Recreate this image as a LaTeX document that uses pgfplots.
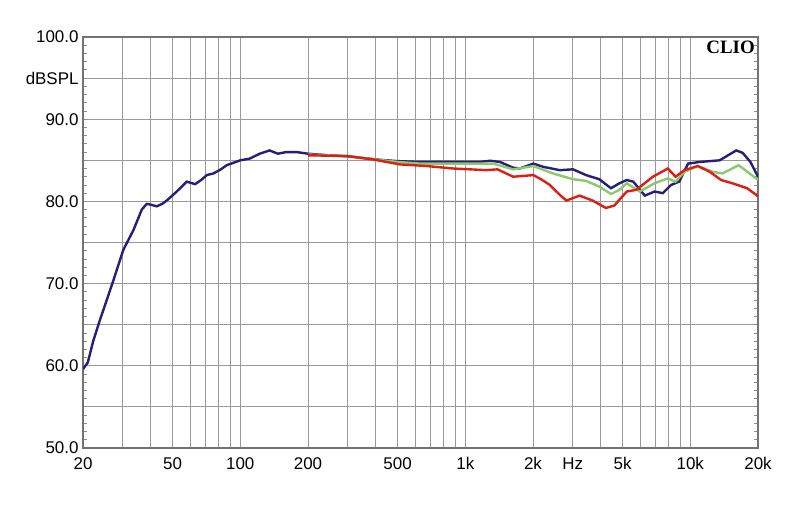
\documentclass[border=0pt]{standalone}
\usepackage{pgfplots}
\pgfplotsset{compat=1.18}
\usepackage{fontspec}
\setmainfont{Liberation Sans}
\newfontfamily\cliofont{Liberation Serif}
\definecolor{navy}{RGB}{40,30,120}
\definecolor{cgreen}{RGB}{140,200,110}
\definecolor{cred}{RGB}{220,30,20}
\begin{document}
\begin{tikzpicture}[x=1bp,y=1bp]
\useasboundingbox (0,0) rectangle (800,506);
\begin{axis}[
  at={(83bp,58bp)}, anchor=south west,
  scale only axis, width=675bp, height=411bp,
  xmode=log, xmin=20, xmax=20000, ymin=50, ymax=100,
  xtick={20,50,100,200,500,1000,2000,3000,5000,10000,20000},
  xticklabels={20,50,100,200,500,1k,2k,Hz,5k,10k,20k},
  minor xtick={30,40,60,70,80,90,300,400,600,700,800,900,4000,6000,7000,8000,9000},
  ytick={50,55,...,100},
  yticklabels={50.0,,60.0,,70.0,,80.0,,90.0,dBSPL,100.0},
  minor y tick num=4,
  xmajorgrids=true, xminorgrids=true, ymajorgrids=true,
  major grid style={draw=black!40, line width=0.9bp},
  minor grid style={draw=black!40, line width=0.9bp},
  axis line style={draw=black!55, line width=1.8bp},
  tick align=inside,
  major tick length=4bp, minor tick length=4bp,
  xtick style={draw=none}, minor x tick style={draw=none},
  ytick style={draw=black!45, line width=0.8bp},
  minor y tick style={draw=black!45, line width=0.8bp},
  ticklabel style={font=\fontsize{17}{20}\selectfont},
  xticklabel style={yshift=-6bp},
  yticklabel style={xshift=-1bp},
  clip=true,
]
\addplot[navy, line width=2.4bp] coordinates {
(20,59.6) (21,60.4) (22.2,63.0) (23.8,65.6) (25.5,68.0) (27.3,70.4) (30.2,74.1)
(33.5,76.5) (36.5,79.0) (38.4,79.7) (40,79.6) (42.5,79.4) (45,79.7) (47.1,80.1)
(52.2,81.2) (57.8,82.4) (63,82.1) (67,82.6) (71,83.2) (76,83.4) (82,83.9) (87,84.4)
(100,85.0) (110,85.2) (122,85.8) (135,86.2) (147,85.8) (160,86.0) (178,86.0)
(200,85.8) (250,85.6) (300,85.5) (400,85.1) (500,84.9) (630,84.8) (800,84.8)
(1000,84.8) (1160,84.8) (1290,84.95) (1424,84.8) (1632,84.1) (1745,84.0) (2008,84.6)
(2222,84.2) (2630,83.8) (3010,83.9) (3440,83.2) (3940,82.7) (4440,81.6) (4840,82.2)
(5220,82.6) (5580,82.4) (6280,80.7) (6940,81.2) (7550,81.0) (8210,82.0) (8930,82.4)
(9780,84.6) (11040,84.8) (13520,85.0) (14500,85.5) (16000,86.2) (17100,85.9)
(18500,84.8) (20000,83.0)
};
\addplot[cgreen, line width=2.4bp] coordinates {
(200,85.7) (300,85.5) (400,85.1) (500,84.8) (630,84.6) (800,84.6) (1000,84.6)
(1160,84.6) (1330,84.6) (1632,83.9) (2008,84.3) (2450,83.4) (3010,82.7) (3440,82.5)
(3940,81.8) (4440,80.9) (4840,81.4) (5220,82.2) (5960,81.2) (6940,82.2) (7950,82.8)
(8600,82.4) (9420,83.6) (10800,84.3) (12600,83.6) (13900,83.4) (16400,84.4)
(19600,82.8) (20000,82.6)
};
\addplot[cred, line width=2.4bp] coordinates {
(200,85.6) (210,85.6) (300,85.5) (390,85.1) (512,84.5) (674,84.3) (884,84.0)
(1240,83.8) (1390,83.9) (1632,83.0) (2008,83.2) (2200,82.6) (2376,82.0) (2630,80.8)
(2814,80.1) (3220,80.7) (3680,80.1) (4220,79.2) (4600,79.5) (4840,80.2) (5220,81.2)
(5750,81.4) (6820,83.0) (7950,84.0) (8600,83.0) (9420,83.8) (10800,84.3) (12200,83.6)
(13700,82.6) (15400,82.2) (17900,81.6) (19600,80.8) (20000,80.6)
};
\node[anchor=north east, inner sep=0pt, font=\cliofont\bfseries\fontsize{19}{20}\selectfont]
  at (rel axis cs:1,1) [xshift=-3bp, yshift=-4bp] {CLIO};
\end{axis}
\end{tikzpicture}
\end{document}
